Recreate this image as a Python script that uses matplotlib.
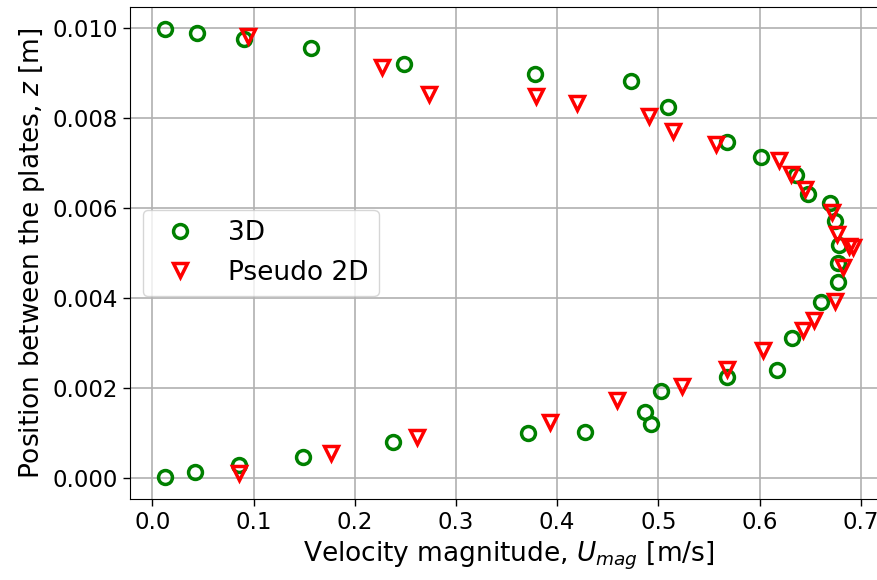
import matplotlib
matplotlib.use("Agg")
import matplotlib.pyplot as plt

# 3D data
u_3d = [0.0119, 0.0418, 0.0859, 0.1488, 0.2374, 0.3707, 0.4277, 0.4926, 0.4873,
        0.5031, 0.5683, 0.6170, 0.6318, 0.6605, 0.6773, 0.6780, 0.6789, 0.6746,
        0.6697, 0.6476, 0.6361, 0.6012, 0.5683, 0.5097, 0.4725, 0.3780, 0.2489,
        0.1564, 0.0906, 0.0441, 0.0125]
z_3d = [0.00003, 0.00012, 0.00029, 0.00047, 0.00079, 0.00099, 0.00103, 0.00120, 0.00147,
        0.00192, 0.00225, 0.00240, 0.00310, 0.00390, 0.00435, 0.00477, 0.00518, 0.00570,
        0.00612, 0.00630, 0.00673, 0.00714, 0.00747, 0.00824, 0.00883, 0.00898, 0.00921,
        0.00955, 0.00975, 0.00988, 0.00998]

# Pseudo 2D data
u_2d = [0.0853, 0.1768, 0.2614, 0.3925, 0.4590, 0.5232, 0.5676, 0.6039, 0.6427,
        0.6539, 0.6746, 0.6826, 0.6880, 0.6920, 0.6763, 0.6714, 0.6445, 0.6313,
        0.6192, 0.5571, 0.5143, 0.4906, 0.4195, 0.3793, 0.2730, 0.2269, 0.0945]
z_2d = [0.00010, 0.00056, 0.00091, 0.00125, 0.00172, 0.00205, 0.00243, 0.00285, 0.00328,
        0.00351, 0.00394, 0.00468, 0.00516, 0.00514, 0.00541, 0.00592, 0.00642, 0.00676,
        0.00706, 0.00742, 0.00770, 0.00804, 0.00833, 0.00849, 0.00854, 0.00913, 0.00983]

fig = plt.figure(figsize=(8.77, 5.80), dpi=100)
ax = fig.add_axes([130/877, 1 - 499/580, (888 - 130)/877, (499 - 7)/580])

ax.plot(u_3d, z_3d, linestyle='none', marker='o', markersize=10, markeredgewidth=2.5,
        markeredgecolor='green', markerfacecolor='none', label='3D')
ax.plot(u_2d, z_2d, linestyle='none', marker='v', markersize=10, markeredgewidth=2.5,
        markeredgecolor='red', markerfacecolor='none', label='Pseudo 2D')

ax.set_xlim(-0.0222, 0.727)
ax.set_ylim(-0.00047, 0.010467)
ax.set_xticks([0.0, 0.1, 0.2, 0.3, 0.4, 0.5, 0.6, 0.7])
ax.set_yticks([0.000, 0.002, 0.004, 0.006, 0.008, 0.010])
ax.yaxis.set_major_formatter(matplotlib.ticker.FormatStrFormatter('%.3f'))
ax.xaxis.set_major_formatter(matplotlib.ticker.FormatStrFormatter('%.1f'))
ax.grid(True, color='#b0b0b0', linewidth=1.2)
ax.set_axisbelow(True)
ax.tick_params(labelsize=16.5, length=5, width=1)

ax.set_xlabel('Velocity magnitude, $U_{mag}$ [m/s]', fontsize=19, labelpad=4)
ax.set_ylabel('Position between the plates, $z$ [m]', fontsize=19, labelpad=4)
ax.legend(loc='center left', fontsize=19)

fig.savefig('out.png', dpi=100)
